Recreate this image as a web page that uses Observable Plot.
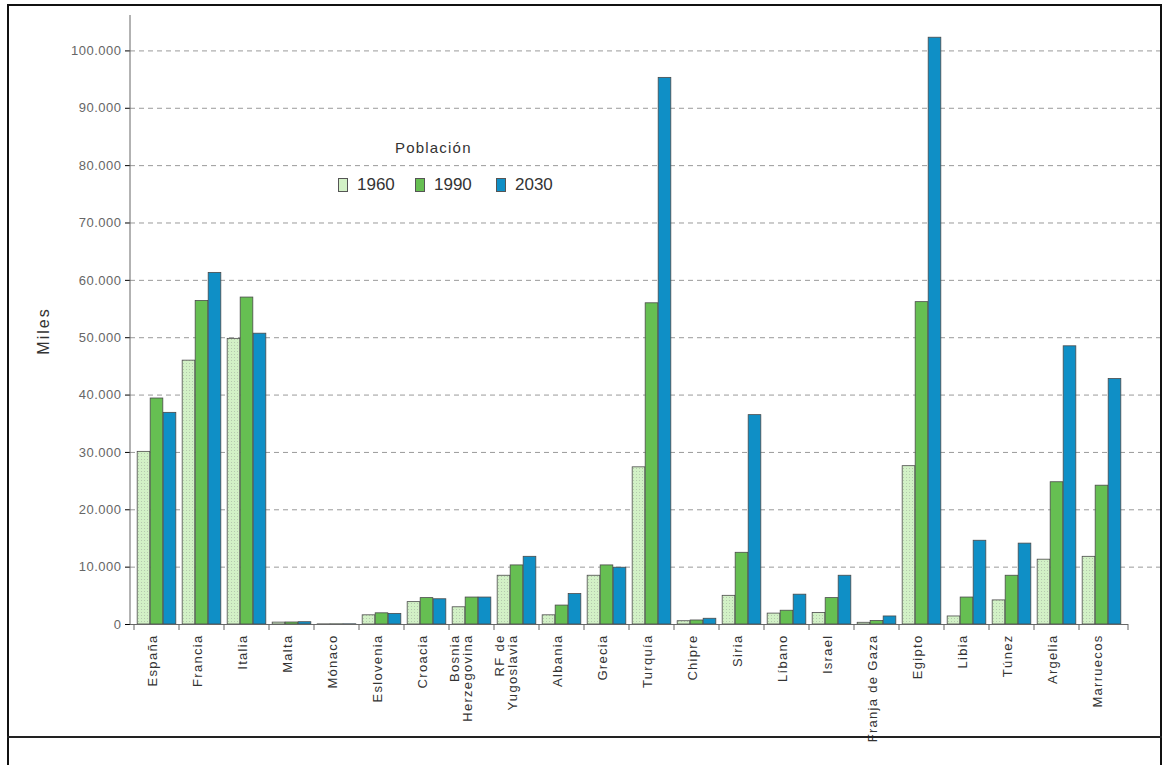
<!DOCTYPE html>
<html>
<head>
<meta charset="utf-8">
<script src="https://cdn.jsdelivr.net/npm/d3@7"></script>
<script src="https://cdn.jsdelivr.net/npm/@observablehq/plot@0.6"></script>
<style>
  body { margin: 0; background: #fff; font-family: "Liberation Sans", Arial, sans-serif; }
  #wrap { position: relative; width: 1170px; height: 765px; overflow: hidden; background: #fff; }
  #chart { position: absolute; left: 0; top: 0; }
  #frame { position: absolute; left: 7px; top: 4px; width: 1155px; height: 800px; border: 2px solid #111; box-sizing: border-box; pointer-events: none; }
  #hline { position: absolute; left: 7px; top: 736px; width: 1155px; height: 2px; background: #222; }
  #ylabel { position: absolute; left: 44px; top: 331px; transform: translate(-50%, -50%) rotate(-90deg); font-size: 16px; letter-spacing: 2px; color: #333; white-space: nowrap; }
  #legend-title { position: absolute; left: 395px; top: 139px; font-size: 15px; letter-spacing: 1.2px; color: #333; }
  .leg { position: absolute; top: 175px; display: flex; align-items: center; font-size: 17px; color: #333; }
  .sw { width: 10px; height: 14px; border: 1px solid #555; box-sizing: border-box; margin-right: 9px; }
  svg g[aria-label^="y-axis"] text { font-size: 13px; fill: #666; letter-spacing: 0.5px; }
  svg g[aria-label="text"] text { letter-spacing: 1.3px; }
</style>
</head>
<body>
<div id="wrap">
  <div id="chart"></div>
  <div id="frame"></div>
  <div id="hline"></div>
  <div id="ylabel">Miles</div>
  <div id="legend-title">Población</div>
  <div id="legend"></div>
</div>
<script>
// ---- data ----
const countries = ["España", "Francia", "Italia", "Malta", "Mónaco", "Eslovenia", "Croacia",
  "Bosnia\nHerzegovina", "RF de\nYugoslavia", "Albania", "Grecia", "Turquía", "Chipre", "Siria",
  "Líbano", "Israel", "Franja de Gaza", "Egipto", "Libia", "Túnez", "Argelia", "Marruecos"];
const years = ["1960", "1990", "2030"];
const v1960 = [30100, 46000, 49800, 330, 25, 1600, 3900, 3000, 8500, 1600, 8500, 27400, 570, 5000, 1900, 2000, 300, 27600, 1400, 4200, 11300, 11800];
const v1990 = [39400, 56400, 57000, 350, 30, 1950, 4600, 4700, 10300, 3300, 10300, 56000, 700, 12500, 2400, 4600, 600, 56200, 4700, 8500, 24800, 24200];
const v2030 = [36900, 61300, 50700, 400, 35, 1850, 4400, 4700, 11800, 5300, 9900, 95300, 1000, 36500, 5200, 8500, 1400, 102300, 14600, 14100, 48500, 42800];
const yTickValues = [10000, 20000, 30000, 40000, 50000, 60000, 70000, 80000, 90000, 100000];
const colors = ["#d2f1c6", "#66bf52", "#0f8fc6"];

// ---- layout ----
const xStart = 130, xEnd = 1128;
const bw = (xEnd - xStart) / countries.length;
const barW = 13, groupW = 3 * barW;
const off = (bw - groupW) / 2;

const series = [v1960, v1990, v2030];
const tables = series.map((vals, k) => countries.map((c, i) => ({country: c, year: years[k], value: vals[i]})));

const fmt = d3.formatLocale({decimal: ",", thousands: ".", grouping: [3], currency: ["", "€"]}).format(",");

const fills = ["url(#dots1960)", colors[1], colors[2]];
const barMarks = tables.map((t, k) => Plot.barY(t, {
  x: "country", y: "value", fill: fills[k], stroke: "#4a4a4a", strokeWidth: 0.8,
  insetLeft: off + k * barW, insetRight: bw - off - (k + 1) * barW
}));

const chart = Plot.plot({
  width: 1170, height: 765,
  marginLeft: xStart, marginRight: 10, marginTop: 16, marginBottom: 141,
  style: {fontFamily: '"Liberation Sans", Arial, sans-serif', background: "transparent"},
  x: {domain: countries, range: [xStart, xEnd], padding: 0, axis: null},
  y: {domain: [0, 106000], ticks: 10, tickFormat: fmt, tickSize: 5, tickPadding: 4, label: null},
  marks: [
    Plot.ruleY(yTickValues, {stroke: "#9a9a9a", strokeDasharray: "5,4", strokeWidth: 1}),
    ...barMarks,
    Plot.text(countries, {x: d => d, frameAnchor: "bottom", text: d => d, rotate: -90, textAnchor: "end",
      dy: 10, fontSize: 13, fill: "#333"})
  ]
});

// pattern for the 1960 bars
const svg = d3.select(chart.tagName === "svg" ? chart : chart.querySelector("svg"));
const pat = svg.insert("defs", ":first-child").append("pattern")
  .attr("id", "dots1960").attr("width", 3).attr("height", 3).attr("patternUnits", "userSpaceOnUse");
pat.append("rect").attr("width", 3).attr("height", 3).attr("fill", colors[0]);
pat.append("rect").attr("width", 1).attr("height", 1).attr("fill", "#b4c9ad");

// axis lines and band-boundary ticks from the chart's own scales
const xs = chart.scale("x"), ys = chart.scale("y");
const y0 = ys.apply(0);
const g = svg.append("g").attr("stroke", "#666").attr("stroke-width", 1);
g.append("line").attr("x1", xs.range[0]).attr("x2", xs.range[0]).attr("y1", ys.apply(ys.domain[1]) - 1).attr("y2", y0 + 0.5);
g.append("line").attr("x1", xs.range[0]).attr("x2", xs.range[1]).attr("y1", y0 + 0.5).attr("y2", y0 + 0.5);
const bounds = countries.map(c => xs.apply(c)).concat([xs.range[1]]);
g.selectAll("line.t").data(bounds).join("line").attr("class", "t")
  .attr("x1", d => d).attr("x2", d => d).attr("y1", y0).attr("y2", y0 + 6);

document.getElementById("chart").appendChild(chart);

// legend
const legendX = [338, 415, 496];
const legend = document.getElementById("legend");
years.forEach((yr, k) => {
  const item = document.createElement("div");
  item.className = "leg";
  item.style.left = legendX[k] + "px";
  item.innerHTML = `<span class="sw" style="background:${colors[k]}"></span><span>${yr}</span>`;
  legend.appendChild(item);
});
</script>
</body>
</html>
